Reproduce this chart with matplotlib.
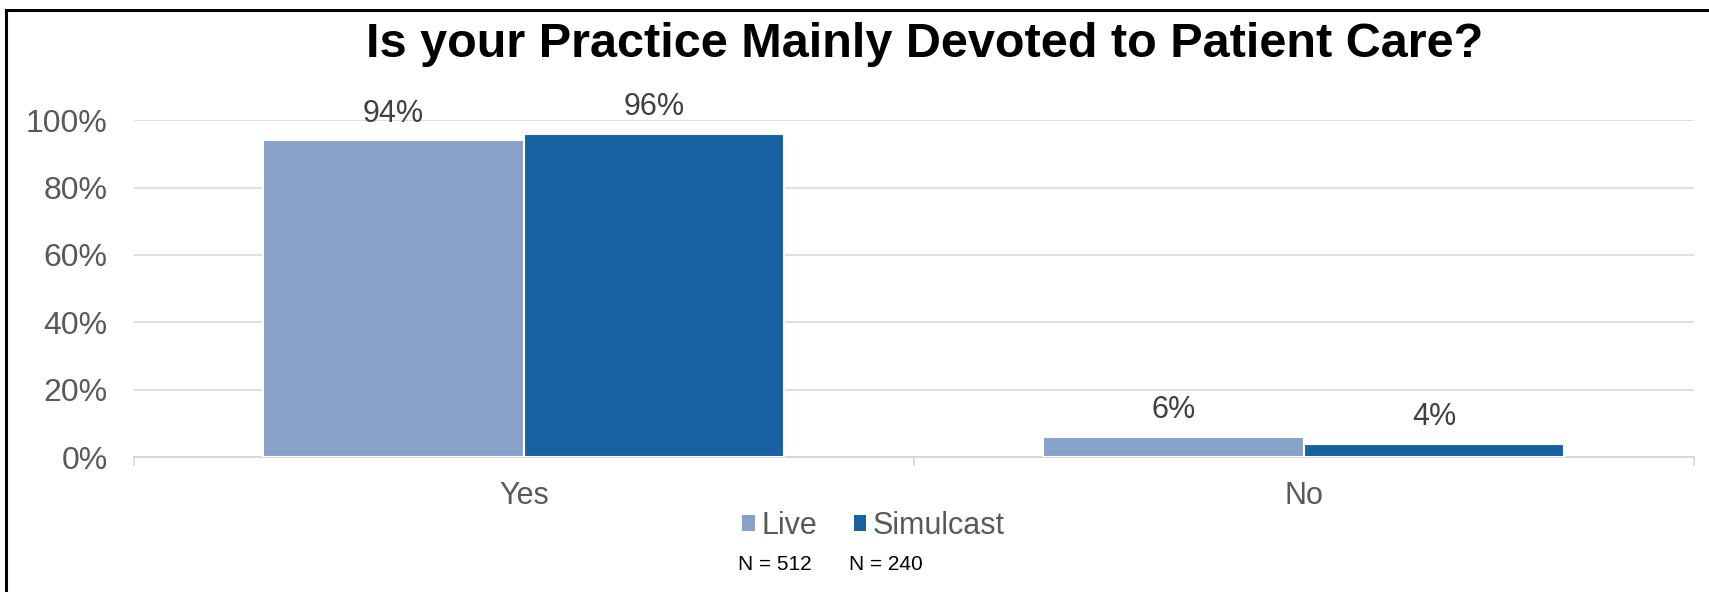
import matplotlib.pyplot as plt
from matplotlib.patches import Patch
from matplotlib.lines import Line2D

# survey answers, percent of respondents
categories = ['Yes', 'No']
series_names = ['Live', 'Simulcast']
live = [94, 6]
simulcast = [96, 4]
sample_sizes = ['N = 512', 'N = 240']
y_ticks = [0, 20, 40, 60, 80, 100]

light_blue = '#88A1C8'
dark_blue = '#1862A2'
grey_text = '#595959'
grid_grey = '#D9D9D9'

plt.rcParams['font.family'] = ['Liberation Sans', 'DejaVu Sans']

fig = plt.figure(figsize=(17.09, 5.92), dpi=100)
ax = fig.add_axes([0.0784, 0.228, 0.9126, 0.569])

x = list(range(len(categories)))
width = 0.334
bars_live = ax.bar([i - width / 2 for i in x], live, width,
                   color=light_blue, edgecolor='white', linewidth=1.5, zorder=3)
bars_sim = ax.bar([i + width / 2 for i in x], simulcast, width,
                  color=dark_blue, edgecolor='white', linewidth=1.5, zorder=3)

for bars, vals in [(bars_live, live), (bars_sim, simulcast)]:
    ax.bar_label(bars, labels=[f'{v}%' for v in vals], padding=8.5,
                 fontsize=22, color='#404040')

ax.set_xlim(-0.5, len(categories) - 0.5)
ax.set_ylim(0, 100)
ax.set_yticks(y_ticks)
ax.set_yticklabels([f'{t}%' for t in y_ticks])
ax.set_xticks(x)
ax.set_xticklabels(categories)
ax.set_xticks([-0.5, 0.5, 1.5], minor=True)

ax.tick_params(axis='y', length=0, labelsize=23, labelcolor=grey_text, pad=19)
ax.tick_params(axis='x', which='major', length=0, labelsize=22,
               labelcolor=grey_text, pad=17)
ax.tick_params(axis='x', which='minor', length=6.5, width=1.2, color=grid_grey)

ax.grid(axis='y', color=grid_grey, linewidth=1.2, zorder=0)
ax.set_axisbelow(True)
for side in ['top', 'right', 'left']:
    ax.spines[side].set_visible(False)
ax.spines['bottom'].set_color(grid_grey)
ax.spines['bottom'].set_linewidth(1.5)

fig.text(0.541, 0.925, 'Is your Practice Mainly Devoted to Patient Care?',
         ha='center', va='center', fontsize=35, fontweight='bold', color='black')

handles = [Patch(facecolor=light_blue, label=series_names[0]),
           Patch(facecolor=dark_blue, label=series_names[1])]
fig.legend(handles=handles, loc='center', bbox_to_anchor=(0.511, 0.111),
           ncol=2, frameon=False, fontsize=22, labelcolor=grey_text,
           handlelength=0.42, handleheight=0.42, handletextpad=0.2,
           columnspacing=1.2, borderpad=0)

fig.text(0.432, 0.046, sample_sizes[0], ha='left', va='center', fontsize=15)
fig.text(0.497, 0.046, sample_sizes[1], ha='left', va='center', fontsize=15)

# frame lines on the left and top edges
fig.add_artist(Line2D([6 / 1709, 6 / 1709], [0, 1 - 10 / 592],
                      transform=fig.transFigure, color='black', linewidth=2.2))
fig.add_artist(Line2D([6 / 1709, 1], [1 - 10 / 592, 1 - 10 / 592],
                      transform=fig.transFigure, color='black', linewidth=2.2))

fig.savefig('out.png', dpi=100)
